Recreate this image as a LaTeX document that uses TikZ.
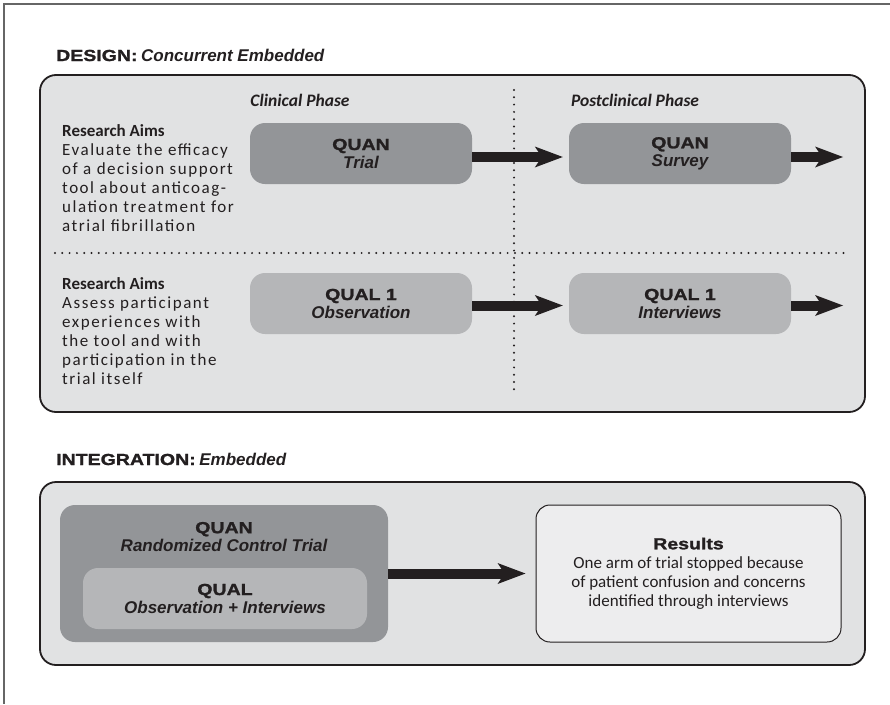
\documentclass[tikz,border=0pt]{standalone}
\usepackage{fontspec}
\setmainfont{Carlito}
\newfontfamily\heavy[FakeStretch=1.22,FakeBold=1.5]{Liberation Sans}
\newfontfamily\arialf{Liberation Sans}
\usetikzlibrary{positioning,arrows.meta}

\definecolor{textblack}{HTML}{231F20}
\definecolor{panelgray}{HTML}{E1E2E3}
\definecolor{quangray}{HTML}{939598}
\definecolor{qualgray}{HTML}{B5B6B8}
\definecolor{resgray}{HTML}{EDEDEE}

\newcommand{\qtitle}[1]{{\heavy\bfseries\fontsize{16}{18}\selectfont #1}}
\newcommand{\qsub}[1]{{\arialf\bfseries\itshape\fontsize{17}{18}\selectfont #1}}
\newcommand{\aimshead}{{\addfontfeature{LetterSpace=0}\bfseries Research Aims}}

\begin{document}
\begin{tikzpicture}[x=1pt, y=-1pt,
  every node/.style={inner sep=0pt, text=textblack},
  panel/.style={draw=textblack, line width=1.8pt, fill=panelgray, rounded corners=16pt},
  quanbox/.style={fill=quangray, rounded corners=15pt, minimum width=222pt, minimum height=61pt,
    align=center, font=\fontsize{16}{18}\selectfont},
  qualbox/.style={quanbox, fill=qualgray},
  resbox/.style={draw=textblack, line width=1pt, fill=resgray, rounded corners=14pt,
    minimum width=305pt, minimum height=137pt, align=center, font=\fontsize{17}{19}\selectfont},
  aims/.style={anchor=north west, align=left,
    font=\fontsize{17}{19}\selectfont\addfontfeature{LetterSpace=9}},
  phase/.style={font=\fontsize{17.5}{20}\selectfont\bfseries\itshape},
  heading/.style={anchor=base west, font=\fontsize{16}{18}\selectfont},
  bigarrow/.style={draw=textblack, line width=10pt,
    -{Stealth[length=28pt,width=21pt,inset=7pt,line width=0pt]}},
  divider/.style={draw=textblack, line width=2.2pt, line cap=round, dash pattern=on 0pt off 7.3pt}
]
\useasboundingbox (0,0) rectangle (890,704);
\draw[gray!80!black, line width=1.5pt] (890,4) -- (4,4) -- (4,704);

% design panel
\node[heading] (design) at (56,61) {\qtitle{DESIGN:} \qsub{Concurrent Embedded}};
\draw[panel] (40,75) rectangle (865,412);
\draw[divider] (514,90) -- (514,395);
\draw[divider] (55,253) -- (845,253);

\node[phase] (clin) at (300,100) {Clinical Phase};
\node[phase] (postclin) at (635,100) {Postclinical Phase};

\node[aims] (aims1) at (62,124) {\aimshead\\Evaluate the efficacy\\of a decision support\\tool about anticoag-\\ulation treatment for\\atrial fibrillation};
\node[aims] (aims2) at (62,277) {\aimshead\\Assess participant\\experiences with\\the tool and with\\participation in the\\trial itself};

\node[quanbox] (trial) at (361,153.5) {\qtitle{QUAN}\\\qsub{Trial}};
\node[quanbox] (survey) at (680,153.5) {\qtitle{QUAN}\\\qsub{Survey}};
\node[qualbox] (obs) at (361,303.5) {\qtitle{QUAL 1}\\\qsub{Observation}};
\node[qualbox] (intv) at (680,303.5) {\qtitle{QUAL 1}\\\qsub{Interviews}};
\coordinate (end1) at (843,157);
\coordinate (end2) at (843,305.5);

\draw[bigarrow, shorten >=6pt] ([yshift=-3.5pt]trial.east) -- ([yshift=-3.5pt]survey.west);
\draw[bigarrow] ([yshift=-3.5pt]survey.east) -- (end1);
\draw[bigarrow, shorten >=6pt] ([yshift=-2pt]obs.east) -- ([yshift=-2pt]intv.west);
\draw[bigarrow] ([yshift=-2pt]intv.east) -- (end2);

% integration panel
\node[heading] (integ) at (56,465) {\qtitle{INTEGRATION:} \qsub{Embedded}};
\draw[panel] (40,482) rectangle (865,665);

\node[quanbox, minimum width=328pt, minimum height=137pt] (rct) at (224,573.5) {};
\node[below=17pt of rct.north, align=center, font=\fontsize{16}{18}\selectfont] (rcttext)
  {\qtitle{QUAN}\\\qsub{Randomized Control Trial}};
\node[qualbox, minimum width=284pt] (obsint) at (225,598.5) {\qtitle{QUAL}\\\qsub{Observation + Interviews}};

\node[resbox] (results) at (688.5,573.5) {\qtitle{Results}\\One arm of trial stopped because\\of patient confusion and concerns\\identified through interviews};

\draw[bigarrow, shorten >=10pt] (rct.east) -- (results.west);
\end{tikzpicture}
\end{document}
